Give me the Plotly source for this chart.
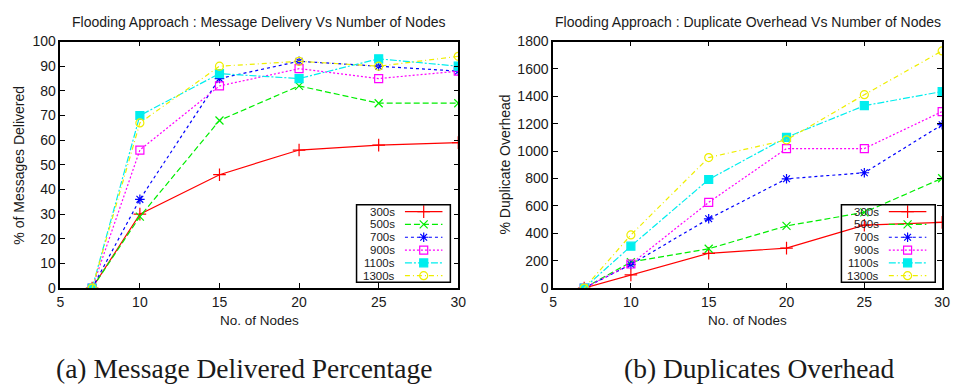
import plotly.graph_objects as go

# ---------------- data ----------------
nodes = [7, 10, 15, 20, 25, 30]
series_names = ["300s", "500s", "700s", "900s", "1100s", "1300s"]

delivery_300 = [0, 30, 46, 56, 58, 59]
delivery_500 = [0, 29, 68, 82, 75, 75]
delivery_700 = [0, 36, 85, 92, 90, 88]
delivery_900 = [0, 56, 82, 89, 85, 88]
delivery_1100 = [0, 70, 87, 85, 93, 90]
delivery_1300 = [0, 67, 90, 92, 90, 94]

overhead_300 = [0, 96, 254, 292, 459, 480]
overhead_500 = [0, 190, 287, 454, 553, 802]
overhead_700 = [0, 172, 506, 798, 842, 1193]
overhead_900 = [0, 176, 626, 1019, 1019, 1289]
overhead_1100 = [0, 306, 793, 1101, 1332, 1435]
overhead_1300 = [0, 388, 953, 1082, 1412, 1732]

x_ticks = [5, 10, 15, 20, 25, 30]
delivery_ticks = list(range(0, 101, 10))
overhead_ticks = list(range(0, 1801, 200))

# ---------------- styles ----------------
W, H = 962, 392
colors = ["#ff0000", "#00ee00", "#0000ff", "#ff00ff", "#00eeee", "#eeee00"]
dashes = ["solid", "6px,3px", "3px,3px", "2px,2px", "7px,2px,2px,2px", "5px,3px,1px,3px"]
symbols = ["cross-thin-open", "x-thin-open", "asterisk-open", "square-open", "square", "circle-open"]
msizes = [9, 8, 8, 8, 8, 8]

FONT = "Liberation Sans, Arial, sans-serif"
TXT = "#1a1a1a"

# plot boxes in pixels (left, right, top, bottom)
L1 = (57, 460, 35, 292)
L2 = (556, 950, 35, 292)


def dom_x(b):
    return [b[0] / W, b[1] / W]


def dom_y(b):
    return [(H - b[3]) / H, (H - b[2]) / H]


fig = go.Figure()

delivery = [delivery_300, delivery_500, delivery_700, delivery_900, delivery_1100, delivery_1300]
overhead = [overhead_300, overhead_500, overhead_700, overhead_900, overhead_1100, overhead_1300]

for i, name in enumerate(series_names):
    common = dict(
        mode="lines+markers",
        name=name,
        showlegend=False,
        line=dict(color=colors[i], width=1.2, dash=dashes[i]),
        marker=dict(symbol=symbols[i], size=msizes[i], color=colors[i],
                    line=dict(color=colors[i], width=1.2)),
    )
    fig.add_trace(go.Scatter(x=nodes, y=delivery[i], xaxis="x", yaxis="y", **common))
    fig.add_trace(go.Scatter(x=nodes, y=overhead[i], xaxis="x2", yaxis="y2", **common))

# ---------------- legend (gnuplot style: label then sample) ----------------
legend_specs = [
    dict(box=(357, 452, 205, 286), text_right=397, line=(406, 444)),
    dict(box=(848, 943, 205, 286), text_right=887, line=(896, 934)),
]
row0, rowstep = 212.3, 13.35
annotations = []
shapes = []
for spec in legend_specs:
    bx0, bx1, by0, by1 = spec["box"]
    shapes.append(dict(type="rect", xref="x3", yref="y3", x0=bx0, x1=bx1, y0=by0, y1=by1,
                       line=dict(color="black", width=1.5), fillcolor="rgba(0,0,0,0)"))
    lx0, lx1 = spec["line"]
    for i, name in enumerate(series_names):
        ry = row0 + i * rowstep
        fig.add_trace(go.Scatter(
            x=[lx0, lx1], y=[ry, ry], xaxis="x3", yaxis="y3", mode="lines", showlegend=False,
            line=dict(color=colors[i], width=1.2, dash=dashes[i]), hoverinfo="skip"))
        fig.add_trace(go.Scatter(
            x=[(lx0 + lx1) / 2], y=[ry], xaxis="x3", yaxis="y3", mode="markers", showlegend=False,
            marker=dict(symbol=symbols[i], size=msizes[i], color=colors[i],
                        line=dict(color=colors[i], width=1.2)), hoverinfo="skip"))
        annotations.append(dict(xref="x3", yref="y3", x=spec["text_right"], y=ry, text=name,
                                showarrow=False, xanchor="right", yanchor="middle",
                                borderpad=0,
                                font=dict(family=FONT, size=11.5, color=TXT)))

# ---------------- titles / labels / captions ----------------
def px_x(v):
    return v / W


def px_y(v):
    return 1 - v / H


for box, title, ytitle, ytx, caption, capx in [
    (L1, "Flooding Approach : Message Delivery Vs Number of Nodes", "% of Messages Delivered", 15,
     "(a) Message Delivered Percentage", 243),
    (L2, "Flooding Approach : Duplicate Overhead Vs Number of Nodes", "% Duplicate Overhead", 507,
     "(b) Duplicates Overhead", 765),
]:
    cx = (box[0] + box[1]) / 2
    annotations.append(dict(xref="paper", yref="paper", x=px_x(cx), y=px_y(15), text=title,
                            showarrow=False, xanchor="center", yanchor="middle",
                            font=dict(family=FONT, size=14, color=TXT)))
    annotations.append(dict(xref="paper", yref="paper", x=px_x(cx), y=px_y(326), text="No. of Nodes",
                            showarrow=False, xanchor="center", yanchor="middle",
                            font=dict(family=FONT, size=13.5, color=TXT)))
    annotations.append(dict(xref="paper", yref="paper", x=px_x(ytx), y=px_y((box[2] + box[3]) / 2),
                            text=ytitle, textangle=-90, showarrow=False, xanchor="center",
                            yanchor="middle", font=dict(family=FONT, size=14, color=TXT)))
    annotations.append(dict(xref="paper", yref="paper", x=px_x(capx), y=px_y(376), text=caption,
                            showarrow=False, xanchor="center", yanchor="middle",
                            font=dict(family="Liberation Serif, Times New Roman, serif", size=27.5,
                                      color=TXT)))

axis_common = dict(
    showline=True, linecolor="black", linewidth=1.5, mirror="ticks",
    ticks="inside", ticklen=5, tickwidth=1, tickcolor="black",
    showgrid=False, zeroline=False,
    tickfont=dict(family=FONT, size=14, color=TXT),
)

fig.update_layout(
    width=W, height=H,
    margin=dict(l=0, r=0, t=0, b=0),
    paper_bgcolor="white", plot_bgcolor="rgba(0,0,0,0)",
    showlegend=False,
    xaxis=dict(domain=dom_x(L1), anchor="y", range=[5, 30], tickvals=x_ticks, **axis_common),
    yaxis=dict(domain=dom_y(L1), anchor="x", range=[0, 100], tickvals=delivery_ticks, **axis_common),
    xaxis2=dict(domain=dom_x(L2), anchor="y2", range=[5, 30], tickvals=x_ticks, **axis_common),
    yaxis2=dict(domain=dom_y(L2), anchor="x2", range=[0, 1800], tickvals=overhead_ticks, **axis_common),
    xaxis3=dict(domain=[0, 1], anchor="y3", range=[0, W], visible=False, fixedrange=True),
    yaxis3=dict(domain=[0, 1], anchor="x3", range=[H, 0], visible=False, fixedrange=True),
    annotations=annotations,
    shapes=shapes,
)

fig.write_html("out.html")
